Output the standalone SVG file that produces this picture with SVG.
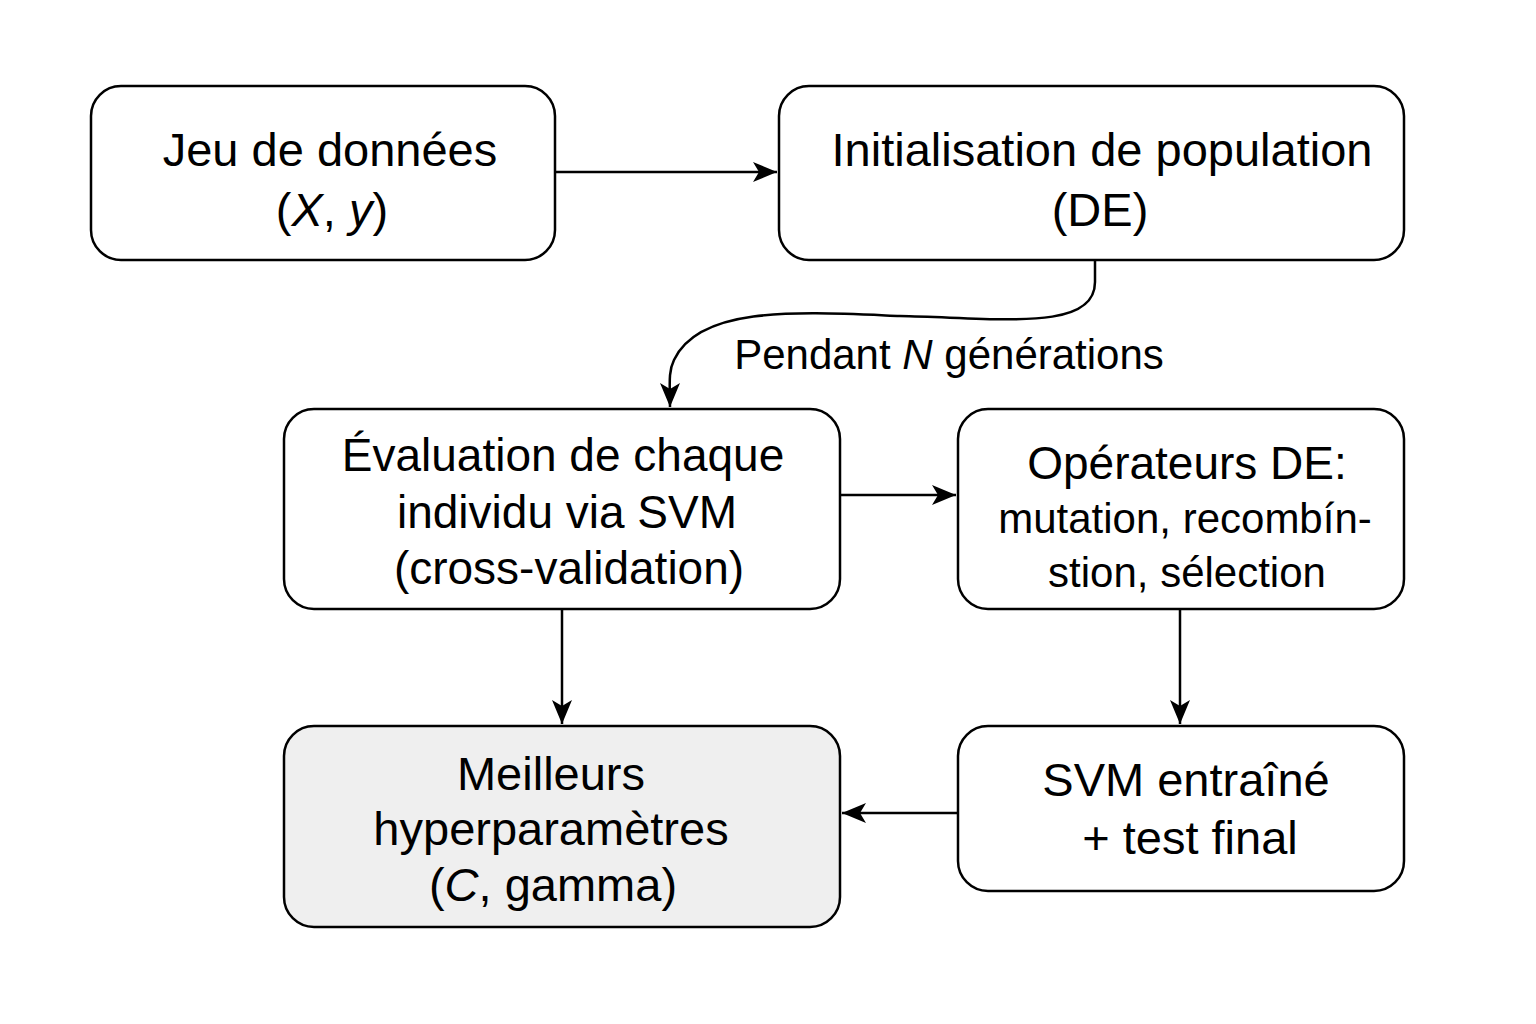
<svg xmlns="http://www.w3.org/2000/svg" width="1536" height="1024" viewBox="0 0 1536 1024">
<style>
.box{fill:#fff;stroke:#000;stroke-width:2.5}
.hl{fill:#efefef}
.t{font-family:"Liberation Sans",Arial,sans-serif;font-size:47px;fill:#000;text-anchor:middle}
.m{font-size:46px}
.s{font-size:42px}
.c{fill:none;stroke:#000;stroke-width:2.5}
</style>
<defs>
<marker id="a" viewBox="0 0 24 20" refX="24" refY="10" markerWidth="24" markerHeight="20" markerUnits="userSpaceOnUse" orient="auto">
<path d="M0,0 L24,10 L0,20 L6,10 Z" fill="#000"/>
</marker>
</defs>
<rect width="1536" height="1024" fill="#fff"/>
<g id="n1"><rect class="box" x="91" y="86" width="464" height="174" rx="30"/>
<text class="t" x="330" y="166">Jeu de données</text>
<text class="t" x="332" y="226">(<tspan font-style="italic">X</tspan>, <tspan font-style="italic">y</tspan>)</text></g>
<g id="n2"><rect class="box" x="779" y="86" width="625" height="174" rx="30"/>
<text class="t" x="1102" y="166">Initialisation de population</text>
<text class="t" x="1100" y="226">(DE)</text></g>
<g id="n3"><rect class="box" x="284" y="409" width="556" height="200" rx="30"/>
<text class="t m" x="563" y="471">Évaluation de chaque</text>
<text class="t m" x="567" y="528">individu via SVM</text>
<text class="t m" x="569" y="584">(cross-validation)</text></g>
<g id="n4"><rect class="box" x="958" y="409" width="446" height="200" rx="30"/>
<text class="t m" x="1187" y="479">Opérateurs DE:</text>
<text class="t s" x="1185" y="533">mutation, recombín-</text>
<text class="t s" x="1187" y="587">stion, sélection</text></g>
<g id="n5"><rect class="box hl" x="284" y="726" width="556" height="201" rx="30"/>
<text class="t" x="551" y="790">Meilleurs</text>
<text class="t" x="551" y="845">hyperparamètres</text>
<text class="t" x="553" y="901">(<tspan font-style="italic">C</tspan>, gamma)</text></g>
<g id="n6"><rect class="box" x="958" y="726" width="446" height="165" rx="30"/>
<text class="t" x="1186" y="796">SVM entraîné</text>
<text class="t" x="1190" y="854">+ test final</text></g>
<g id="connectors">
<path class="c" d="M555,172 H777" marker-end="url(#a)"/>
<path class="c" d="M1095,260 V282 C1095,332 1000,318 900,316 C800,312 700,305 674,360 C668,372 670,385 670,407" marker-end="url(#a)"/>
<path class="c" d="M840,495 H956" marker-end="url(#a)"/>
<path class="c" d="M562,609 V724" marker-end="url(#a)"/>
<path class="c" d="M1180,609 V724" marker-end="url(#a)"/>
<path class="c" d="M958,813 H842" marker-end="url(#a)"/>
<text class="t s" x="949" y="369"><tspan>Pendant </tspan><tspan font-style="italic">N</tspan><tspan> générations</tspan></text>
</g>
</svg>
